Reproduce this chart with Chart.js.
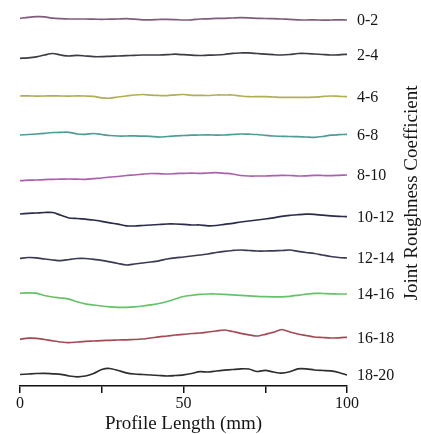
<!DOCTYPE html>
<html>
<head>
<meta charset="utf-8">
<script src="https://cdn.jsdelivr.net/npm/chart.js@4.4.1/dist/chart.umd.min.js"></script>
<style>
  body { margin: 0; background: #fff; }
  #wrap { width: 421px; height: 434px; }
</style>
</head>
<body>
<div id="wrap"><canvas id="profileChart"></canvas></div>
<script>
// JRC classes, one trace each
const jrcRanges = ['0-2', '2-4', '4-6', '6-8', '8-10', '10-12', '12-14', '14-16', '16-18', '18-20'];

// sampling points along the profile (mm)
const lengths = [0, 2.5, 5, 7.5, 10, 12.5, 15, 17.5, 20, 22.5, 25, 27.5, 30, 32.5, 35, 37.5, 40, 42.5, 45, 47.5,
  50, 52.5, 55, 57.5, 60, 62.5, 65, 67.5, 70, 72.5, 75, 77.5, 80, 82.5, 85, 87.5, 90, 92.5, 95, 97.5, 100];

// vertical stacking level of each trace
const levels = [367.7, 327.7, 290, 251, 205.3, 172, 127.7, 92.7, 46.7, 11.5];

// surface heights relative to the start of each trace
const p0_2 = [0, 1, 1.6, 1.5, 0.1, -0.4, -0.7, -0.7, -0.7, -0.9, -1, -0.9, -0.7, -0.4, -0.9, -1.5, -1.5, -1.2, -1, -1.3,
  -1.7, -1.5, -0.7, -0.5, -0.1, 0, 0.3, 0.6, 0.4, 0, -0.2, -0.4, -0.7, -1.1, -1.5, -1.7, -1.6, -1.8, -1.7, -1.6, -1.7];
const p2_4 = [0, 0.5, 1.5, 3.3, 4.8, 3.3, 2.3, 3, 2.3, 1.6, 1.6, 2, 2.3, 2.6, 3, 3.3, 3.3, 3.3, 3.6, 4.1,
  3.6, 3.1, 2.8, 3.1, 3.3, 3.8, 4.9, 5.3, 5.5, 4.8, 4.1, 3.6, 3.3, 3.8, 4.8, 4.8, 4.3, 3.8, 3.3, 3.5, 4];
const p4_6 = [0, 0.1, -0.1, 0, 0.2, 0, -0.1, 0.1, 0, -0.3, -1.8, -2.2, -1, 0, 1, 1.5, 0.8, 0.5, 0.3, 1.2,
  1.5, 0.7, 0.7, 0.5, 1, 1, 1, 0, -0.7, -0.7, -0.7, -1, -1.3, -1.3, -1.4, -1.3, -1.2, -0.5, 0, -0.3, -0.7];
const p6_8 = [0, 0.5, 1, 1.7, 2.5, 2.7, 2.7, 1, 0.7, 1.5, 0.5, -0.5, -1, -1, -0.9, -1.1, -1.3, -2.2, -1.5, -0.8,
  -0.5, -0.2, 0, 0.1, -0.1, 0, 0.5, 1, 0.8, 0.5, -0.3, -1, -1.3, -1.5, -1.7, -2, -2.3, -1.5, -0.2, 0.3, 0.7];
const p8_10 = [0, 0.5, 0.7, 1.1, 1.4, 1.5, 1.7, 1.5, 1.4, 2.1, 2.7, 3.7, 4.2, 5.2, 5.7, 6.5, 7.2, 7, 6.7, 7.1,
  7.4, 7.5, 7.4, 7.7, 8, 7.4, 6.7, 5.2, 4.7, 4.7, 4.7, 5, 5.4, 5.2, 4.7, 4.9, 5.3, 5.2, 5, 5.4, 5.7];
const p10_12 = [0, 0.6, 1, 1.5, 1.5, -1.3, -4, -4.5, -5.2, -6, -7.3, -8.8, -10.2, -11.8, -12, -11.5, -11, -10.5, -10, -10,
  -10.3, -11, -11, -11.8, -11.5, -10.3, -9.3, -8, -7, -6, -5, -3.8, -2.3, -1.3, -0.7, -0.2, -0.3, -1.2, -1.8, -2.3, -2.7];
const p12_14 = [0, 0.8, 0.5, -0.7, -1.7, -2.4, -1.2, -0.2, -0.2, -1, -2, -3.5, -5.2, -6.7, -5.7, -4.7, -3.7, -2.5, -0.7, 0.5,
  1.3, 2.3, 3.3, 4.3, 5.8, 7, 7.8, 8.3, 7.8, 7.3, 7.3, 7.5, 7.8, 8.3, 7, 5.8, 4.8, 3.3, 1.8, 0.8, 0.3];
const p14_16 = [0, 0.5, 0.1, -2.2, -3.7, -4.7, -5.9, -8.5, -10.5, -11.7, -12.7, -13.5, -14, -14, -13.5, -12.7, -11.5, -10.2, -8.2, -5.7,
  -3.2, -2, -1, -0.7, -0.7, -1, -1.5, -2, -2.5, -3, -3.4, -3.5, -3.5, -3, -2, -0.9, 0, -0.2, -0.5, -0.7, -0.7];
const p16_18 = [0, 1.1, 1, -0.2, -1.5, -2.7, -3.4, -2.7, -2, -1.7, -1.3, -1, -0.7, -0.5, -0.2, 0.3, 1.3, 2.5, 3.3, 4.3,
  5, 5.8, 6.3, 7.3, 8.3, 9.3, 7.8, 6, 4.5, 3.3, 5, 7, 9.8, 7.3, 5.3, 3.8, 2.3, 1.8, 1.3, 1.5, 2];
const p18_20 = [0, 0.5, 1, 1.2, 0.7, 0.2, -1.5, -2.3, -1.5, 1, 5, 6, 4, 1.7, 0.5, 0, -0.5, -1, -1.5, -1,
  -0.3, 1, 2.8, 2.5, 3.5, 4.3, 5, 5.7, 5.5, 3, 4.2, 2.5, 1.3, 2.8, 5.7, 5.7, 4.5, 4, 3.7, 2, -0.5];

const profiles = [p0_2, p2_4, p4_6, p6_8, p8_10, p10_12, p12_14, p14_16, p16_18, p18_20];
const colors = ['#805c7c', '#3c3c46', '#b2ae55', '#4f9c96', '#ac60ac',
  '#2b2b4c', '#3a3a54', '#66c266', '#a44a54', '#2e2e2e'];

const serif = '"Liberation Serif", "Times New Roman", serif';

// class names next to each trace end, plus the rotated caption on the right
const sideLabels = {
  id: 'sideLabels',
  afterDatasetsDraw(chart) {
    const { ctx, chartArea } = chart;
    ctx.save();
    ctx.fillStyle = '#151515';
    ctx.font = '16px ' + serif;
    ctx.textBaseline = 'middle';
    chart.data.datasets.forEach((ds, i) => {
      const pts = chart.getDatasetMeta(i).data;
      const last = pts[pts.length - 1];
      ctx.fillText(ds.label, chartArea.right + 10, last.y + 1);
    });
    ctx.translate(chart.width - 4, (chartArea.top + chartArea.bottom) / 2);
    ctx.rotate(-Math.PI / 2);
    ctx.textAlign = 'center';
    ctx.textBaseline = 'alphabetic';
    ctx.font = '19px ' + serif;
    ctx.fillText('Joint Roughness Coefficient', 0, 0);
    ctx.restore();
  }
};

new Chart(document.getElementById('profileChart'), {
  type: 'line',
  data: {
    datasets: jrcRanges.map((name, i) => ({
      label: name,
      data: lengths.map((x, j) => ({ x: x, y: levels[i] + profiles[i][j] })),
      borderColor: colors[i],
      borderWidth: 1.7,
      pointRadius: 0,
      tension: 0.25,
      fill: false
    }))
  },
  options: {
    responsive: true,
    maintainAspectRatio: false,
    animation: false,
    layout: { padding: { left: 20, right: 74, top: 0, bottom: 0 } },
    plugins: {
      legend: { display: false },
      tooltip: { enabled: false }
    },
    scales: {
      x: {
        type: 'linear',
        min: 0,
        max: 100,
        border: { display: true, color: '#111', width: 1.5 },
        grid: { drawOnChartArea: false, drawTicks: true, tickLength: 7, color: '#111', lineWidth: 1.5 },
        ticks: {
          stepSize: 25,
          autoSkip: false,
          maxRotation: 0,
          padding: 4,
          color: '#151515',
          font: { family: serif, size: 16, lineHeight: 0.9 },
          callback: v => (v % 50 === 0 ? v : '')
        },
        title: {
          display: true,
          text: 'Profile Length (mm)',
          color: '#151515',
          font: { family: serif, size: 19, lineHeight: 0.9 },
          padding: { top: 0, bottom: 1.5 }
        }
      },
      y: {
        display: false,
        min: 0,
        max: 386
      }
    }
  },
  plugins: [sideLabels]
});
</script>
</body>
</html>
